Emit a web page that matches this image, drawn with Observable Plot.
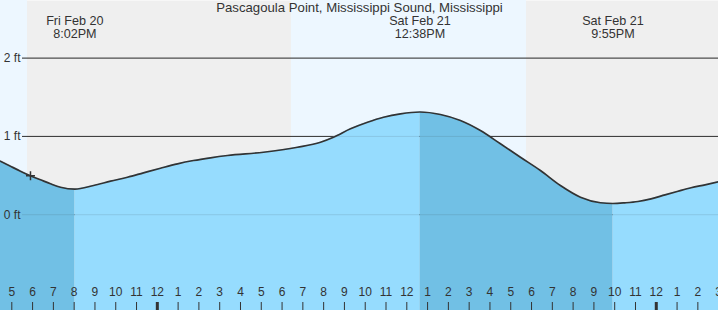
<!DOCTYPE html>
<html>
<head>
<meta charset="utf-8">
<script src="https://cdn.jsdelivr.net/npm/d3@7"></script>
<script src="https://cdn.jsdelivr.net/npm/@observablehq/plot@0.6"></script>
<style>
  html, body { margin: 0; padding: 0; background: #fff; }
  #chart svg { display: block; }
</style>
</head>
<body>
<div id="chart"></div>
<script>
// Hours counted from Fri Feb 20, 00:00 local time
const tideHours = [16.456, 16.937, 17.418, 17.899, 18.380, 18.861, 19.342, 20.033, 20.934, 21.752,
  22.565, 23.335, 24.153, 24.971, 25.740, 26.558, 27.375, 29.107, 30.743, 31.849, 32.474, 33.292,
  34.110, 34.879, 35.697, 36.633, 37.618, 38.580, 39.542, 40.504, 41.466, 42.428, 43.390, 44.352,
  45.314, 45.917, 46.498, 47.123, 47.749, 48.422, 49.048, 49.673, 50.346, 50.993];
const tideFeet = [0.683, 0.619, 0.556, 0.497, 0.446, 0.395, 0.351, 0.326, 0.373, 0.428,
  0.479, 0.535, 0.594, 0.650, 0.692, 0.727, 0.756, 0.798, 0.862, 0.926, 0.990, 1.097,
  1.181, 1.245, 1.289, 1.312, 1.280, 1.203, 1.075, 0.906, 0.734, 0.565, 0.373, 0.224,
  0.153, 0.143, 0.152, 0.169, 0.203, 0.254, 0.300, 0.344, 0.382, 0.420];

// falling-tide intervals (high -> low), drawn darker
const fallingStart = [16.456, 36.633];
const fallingEnd = [20.033, 45.917];

// daylight intervals (sunrise, sunset)
const sunrise = [6.45, 30.45];
const sunset = [17.755, 41.757];

// tide events
const eventHours = [20.033, 36.633, 45.917];
const eventDates = ["Fri Feb 20", "Sat Feb 21", "Sat Feb 21"];
const eventTimes = ["8:02PM", "12:38PM", "9:55PM"];

// current time marker
const nowHour = [17.899];
const nowFeet = [0.497];

const gridFeet = [2, 1, 0];
const gridLabels = ["2 ft", "1 ft", "0 ft"];
const tickHours = d3.range(17, 52);

const title = "Pascagoula Point, Mississippi Sound, Mississippi";

const tide = tideHours.map((h, i) => ({h, ft: tideFeet[i]}));
const falling = fallingStart.map((s, i) => ({s, e: fallingEnd[i]}));
const days = sunrise.map((s, i) => ({s, e: sunset[i]}));
const events = eventHours.map((h, i) => ({h, label: eventDates[i] + "\n" + eventTimes[i]}));
const now = nowHour.map((h, i) => ({h, ft: nowFeet[i]}));
const grid = gridFeet.map((v, i) => ({v, label: gridLabels[i]}));

const xDomain = [16.4565, 50.993];
const yDomain = [-1.2235, 2.736];
const ink = "#333";

const rising = [];
{
  const bounds = [xDomain[0]];
  falling.forEach(f => { bounds.push(f.s, f.e); });
  bounds.push(xDomain[1]);
  for (let i = 0; i < bounds.length; i += 2) rising.push({s: bounds[i], e: bounds[i + 1]});
}
const seg = (a) => tide.filter(d => d.h >= a.s - 1e-6 && d.h <= a.e + 1e-6);

const marks = [
  Plot.frame({fill: "#efefef", stroke: null}),
  Plot.rect(days, {x1: "s", x2: "e", fill: "#edf7ff", clip: true}),
  Plot.ruleY(grid, {y: "v", stroke: ink, strokeWidth: 1, insetLeft: 22}),
];
for (const r of rising) {
  marks.push(Plot.areaY(seg(r), {x: "h", y1: yDomain[0], y2: "ft", fill: "#96dcfe", curve: "monotone-x"}));
}
for (const f of falling) {
  marks.push(Plot.areaY(seg(f), {x: "h", y1: yDomain[0], y2: "ft", fill: "#71c0e5", curve: "monotone-x"}));
}
marks.push(
  Plot.ruleY(grid, {y: "v", stroke: ink, strokeOpacity: 0.12, strokeWidth: 1, insetLeft: 22}),
  Plot.line(tide, {x: "h", y: "ft", stroke: ink, strokeWidth: 1.7, curve: "monotone-x"}),
  Plot.dot(now, {x: "h", y: "ft", symbol: "plus", r: 3, stroke: ink, strokeWidth: 1.5}),
  Plot.text(grid, {y: "v", frameAnchor: "left", text: "label", textAnchor: "end", dx: 20, fill: ink, fontSize: 12}),
  Plot.ruleX(tickHours, {x: d => d, insetTop: 302, stroke: ink, strokeWidth: d => d % 24 === 0 ? 3 : 1}),
  Plot.text(tickHours, {x: d => d, frameAnchor: "bottom", dy: -15, text: d => String(d % 12 || 12), fill: ink, fontSize: 12}),
  Plot.text(events, {x: "h", frameAnchor: "top", lineAnchor: "top", dy: 15, text: "label", lineHeight: 1.04, fill: ink, fontSize: 12.6}),
  Plot.text([title], {frameAnchor: "top", lineAnchor: "top", dy: 2.5, text: d => d, fill: ink, fontSize: 13.2})
);

const chart = Plot.plot({
  width: 718,
  height: 310,
  margin: 0,
  style: {fontFamily: "'Liberation Sans', Arial, sans-serif", background: "#fff", overflow: "hidden"},
  x: {domain: xDomain, range: [0, 718], axis: null},
  y: {domain: yDomain, range: [310, 0], axis: null},
  marks
});
document.getElementById("chart").appendChild(chart);
</script>
</body>
</html>
